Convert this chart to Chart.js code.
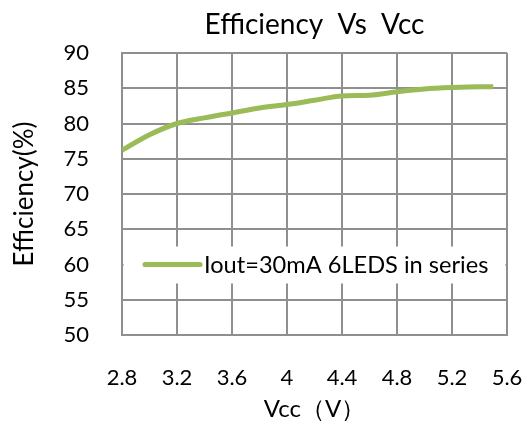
<!DOCTYPE html>
<html>
<head>
<meta charset="utf-8">
<script src="https://cdn.jsdelivr.net/npm/chart.js@4/dist/chart.umd.min.js"></script>
<style>
html,body{margin:0;padding:0;background:#fff;}
#wrap{width:528px;height:423px;}
</style>
</head>
<body>
<div id="wrap"><canvas id="c" width="528" height="423"></canvas></div>
<script>
const vcc = [2.8, 3.0, 3.2, 3.4, 3.6, 3.8, 4.0, 4.2, 4.4, 4.6, 4.8, 5.0, 5.2, 5.4, 5.5];
const efficiency = [76.2, 78.4, 80.0, 80.8, 81.5, 82.2, 82.7, 83.3, 83.9, 84.0, 84.5, 84.9, 85.1, 85.2, 85.2];
const xTickLabels = ['2.8', '3.2', '3.6', '4', '4.4', '4.8', '5.2', '5.6'];
const yTickLabels = ['50', '55', '60', '65', '70', '75', '80', '85', '90'];
const seriesName = 'Iout=30mA 6LEDS in series';
const chartTitle = 'Efficiency  Vs  Vcc';
const xTitle = 'Vcc（V）';
const yTitle = 'Efficiency(%)';

const FONT = 'Lato';
const GRID = '#8f8f8f';
const LINE = '#9BBB59';

const insideLegend = {
  id: 'insideLegend',
  afterDraw(chart) {
    const {ctx, chartArea: a} = chart;
    const ys = chart.scales.y;
    const yMid = ys.getPixelForValue(60);
    ctx.save();
    ctx.fillStyle = '#fff';
    ctx.fillRect(a.left + 1.5, yMid - 18, a.right - a.left - 3, 37);
    ctx.strokeStyle = LINE;
    ctx.lineWidth = 5;
    ctx.lineCap = 'round';
    ctx.beginPath();
    ctx.moveTo(a.left + 23, yMid);
    ctx.lineTo(a.left + 78, yMid);
    ctx.stroke();
    ctx.fillStyle = '#000';
    ctx.font = '23.6px ' + FONT;
    ctx.textBaseline = 'middle';
    ctx.textAlign = 'left';
    ctx.fillText(chart.data.datasets[0].label, a.left + 82, yMid + 1);
    ctx.restore();
  }
};

new Chart(document.getElementById('c'), {
  type: 'line',
  data: {
    datasets: [{
      label: seriesName,
      data: vcc.map((v, i) => ({x: v, y: efficiency[i]})),
      borderColor: LINE,
      borderWidth: 5,
      pointRadius: 0,
      tension: 0.4,
      cubicInterpolationMode: 'monotone',
      fill: false
    }]
  },
  options: {
    responsive: false,
    animation: false,
    devicePixelRatio: 1,
    layout: {padding: {left: 0, right: 0, top: 0, bottom: 0}},
    plugins: {
      legend: {display: false},
      tooltip: {enabled: false},
      title: {
        display: true,
        text: chartTitle,
        fullSize: false,
        color: '#000',
        font: {family: FONT, size: 28, weight: 'normal', lineHeight: 1.2},
        padding: {top: 8, bottom: 11.4}
      }
    },
    scales: {
      x: {
        type: 'linear',
        min: 2.8,
        max: 5.6,
        afterFit(s) { s.height = 88; s.paddingRight = 21; },
        ticks: {
          stepSize: 0.4,
          color: '#000',
          padding: 30,
          font: {family: FONT, size: 22},
          callback: (v, i) => xTickLabels[i]
        },
        grid: {color: GRID, lineWidth: 2, drawTicks: false},
        border: {color: GRID, width: 2},
        title: {
          display: true,
          text: xTitle,
          color: '#000',
          font: {family: FONT, size: 24, lineHeight: 1.1},
          padding: {top: 0, bottom: 1}
        }
      },
      y: {
        min: 50,
        max: 90,
        afterFit(s) { s.width = 122; },
        ticks: {
          stepSize: 5,
          color: '#000',
          padding: 33,
          font: {family: FONT, size: 22},
          callback: (v, i) => yTickLabels[i]
        },
        grid: {color: GRID, lineWidth: 2, drawTicks: false},
        border: {color: GRID, width: 2},
        title: {
          display: true,
          text: yTitle,
          color: '#000',
          font: {family: FONT, size: 26, lineHeight: 1.2},
          padding: {top: 9.4, bottom: 0}
        }
      }
    }
  },
  plugins: [insideLegend]
});
</script>
</body>
</html>
